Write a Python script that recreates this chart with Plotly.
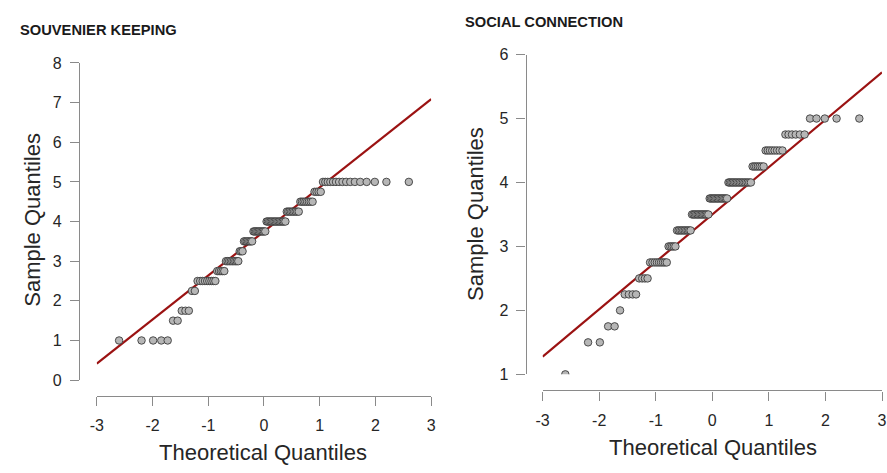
import numpy as np
import plotly.graph_objects as go
from statistics import NormalDist

# Response levels and how many respondents gave each (N = 107 per scale)
souvenir_levels = [1, 1.5, 1.75, 2.25, 2.5, 2.75, 3, 3.25, 3.5, 3.75, 4, 4.25, 4.5, 4.75, 5]
souvenir_counts = [5, 2, 3, 2, 9, 5, 9, 3, 7, 10, 15, 9, 8, 4, 16]

social_levels = [1, 1.5, 1.75, 2, 2.25, 2.5, 2.75, 3, 3.25, 3.5, 3.75, 4, 4.25, 4.5, 4.75, 5]
social_counts = [1, 2, 2, 1, 4, 4, 9, 5, 10, 13, 14, 16, 7, 8, 6, 5]

panel_titles = ["SOUVENIER KEEPING", "SOCIAL CONNECTION"]
x_tick_vals = [-3, -2, -1, 0, 1, 2, 3]
x_tick_text = ["-3", "-2", "-1", "0", "1", "2", "3"]
y1_tick_vals = [0, 1, 2, 3, 4, 5, 6, 7, 8]
y2_tick_vals = [1, 2, 3, 4, 5, 6]

W, H = 887, 473
nd = NormalDist()


def qq(levels, counts):
    sample = np.repeat(levels, counts).astype(float)
    n = len(sample)
    a = 0.375 if n <= 10 else 0.5
    theo = np.array([nd.inv_cdf((i - a) / (n + 1 - 2 * a)) for i in range(1, n + 1)])
    # reference line through the first and third quartiles
    q1, q3 = np.quantile(sample, [0.25, 0.75])
    z1, z3 = nd.inv_cdf(0.25), nd.inv_cdf(0.75)
    slope = (q3 - q1) / (z3 - z1)
    icpt = q1 - slope * z1
    lx = np.array([x_tick_vals[0], x_tick_vals[-1]], dtype=float)
    return theo, sample, lx, icpt + slope * lx


def px(x):
    return x / W


def py(y):
    return 1 - y / H


fig = go.Figure()

for k, (lv, ct) in enumerate([(souvenir_levels, souvenir_counts), (social_levels, social_counts)]):
    theo, sample, lx, ly = qq(lv, ct)
    xa = "x" if k == 0 else "x2"
    ya = "y" if k == 0 else "y2"
    fig.add_trace(go.Scatter(x=lx, y=ly, mode="lines", xaxis=xa, yaxis=ya,
                             line=dict(color="#9b1212", width=2.2), showlegend=False,
                             hoverinfo="skip"))
    fig.add_trace(go.Scatter(x=theo, y=sample, mode="markers", xaxis=xa, yaxis=ya,
                             marker=dict(size=7.5, color="#b6b6b6",
                                         line=dict(color="#3c3c3c", width=0.9)),
                             showlegend=False))

axis_common = dict(showgrid=False, zeroline=False, showline=True, linecolor="#8a8a8a",
                   linewidth=1.2, ticks="outside", ticklen=9, tickwidth=1.2,
                   tickcolor="#8a8a8a", anchor="free",
                   tickfont=dict(family="Arial, Liberation Sans", size=16, color="#262626"))

fig.update_layout(
    width=W, height=H,
    margin=dict(l=0, r=0, t=0, b=0),
    paper_bgcolor="white", plot_bgcolor="white",
    xaxis=dict(axis_common, domain=[px(91), px(430)], range=[-3, 3], position=py(402),
               tickvals=x_tick_vals, ticktext=x_tick_text, ticklabelstandoff=6),
    yaxis=dict(axis_common, domain=[py(386), py(57)], range=[0, 8], position=px(73),
               tickvals=y1_tick_vals, ticklabelstandoff=5),
    xaxis2=dict(axis_common, domain=[px(543), 1.0], range=[-3, 3], position=py(396.7),
                tickvals=x_tick_vals, ticktext=x_tick_text, ticklabelstandoff=6),
    yaxis2=dict(axis_common, domain=[py(380), py(48.3)], range=[1, 6], position=px(525.7),
                tickvals=y2_tick_vals, ticklabelstandoff=5),
)

title_font = dict(family="Arial, Liberation Sans", size=14.7, color="#1a1a1a")
label_font = dict(family="Arial, Liberation Sans", size=22, color="#262626")

annotations = [
    dict(text="<b>%s</b>" % panel_titles[0], x=px(11), y=py(23), xanchor="left", yanchor="middle",
         font=title_font),
    dict(text="<b>%s</b>" % panel_titles[1], x=px(462), y=py(15), xanchor="left", yanchor="middle",
         font=title_font),
    dict(text="Theoretical Quantiles", x=px(260), y=py(461), xanchor="center", yanchor="middle",
         font=label_font),
    dict(text="Theoretical Quantiles", x=px(716), y=py(456), xanchor="center", yanchor="middle",
         font=label_font),
    dict(text="Sample Quantiles", x=px(25), y=py(220), xanchor="center", yanchor="middle",
         textangle=-90, font=label_font),
    dict(text="Sample Quantiles", x=px(475), y=py(214), xanchor="center", yanchor="middle",
         textangle=-90, font=label_font),
]
for a in annotations:
    a.update(xref="paper", yref="paper", showarrow=False)
fig.update_layout(annotations=annotations)

fig.write_html("out.html")
